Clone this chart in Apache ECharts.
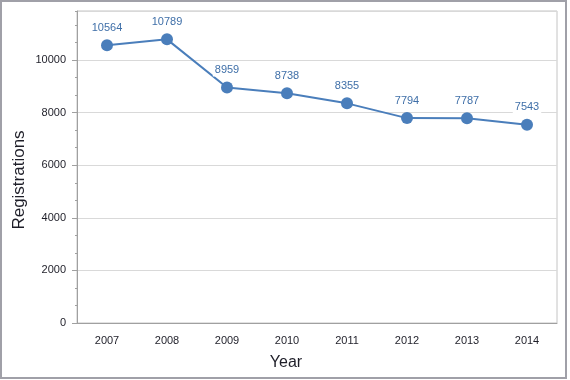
<!DOCTYPE html>
<html>
<head>
<meta charset="utf-8">
<script src="https://cdn.jsdelivr.net/npm/echarts@6/dist/echarts.min.js"></script>
<style>html,body{margin:0;padding:0;background:#fff}#c{width:570px;height:380px}</style>
</head>
<body>
<div id="c"></div>
<script>
const years = ['2007','2008','2009','2010','2011','2012','2013','2014'];
const registrations = [10564, 10789, 8959, 8738, 8355, 7794, 7787, 7543];
const yTicks = [0, 2000, 4000, 6000, 8000, 10000];

const yMax = 11868;
const minorCats = [];
for (let i = 0; i < years.length * 5; i++) minorCats.push('');

const chart = echarts.init(document.getElementById('c'), null, {renderer: 'canvas'});
const font = 'Liberation Sans';
chart.setOption({
  animation: false,
  backgroundColor: '#fff',
  grid: {left: 77, top: 11, right: 13, bottom: 57, show: true, borderColor: '#c4c4c4', borderWidth: 1},
  xAxis: [{
    type: 'category', data: years, boundaryGap: true,
    axisLine: {lineStyle: {color: '#a0a0a0'}},
    axisTick: {alignWithLabel: true, length: 5, lineStyle: {color: '#a0a0a0'}},
    axisLabel: {fontFamily: font, fontSize: 11, color: '#1e1e28', margin: 12},
    splitLine: {show: false}
  }, {
    type: 'category', data: minorCats, boundaryGap: true, position: 'bottom',
    axisLine: {show: false},
    axisTick: {alignWithLabel: true, interval: 0, length: 2, lineStyle: {color: '#a0a0a0'}},
    axisLabel: {show: false},
    splitLine: {show: false}
  }],
  yAxis: [{
    type: 'value', min: 0, max: yMax, interval: yTicks[1] - yTicks[0],
    axisLine: {show: true, lineStyle: {color: '#a0a0a0'}},
    axisTick: {show: true, length: 5, lineStyle: {color: '#a0a0a0'}},
    axisLabel: {fontFamily: font, fontSize: 11, color: '#1e1e28', margin: 11, showMaxLabel: false,
      formatter: function (v) { return String(v); }},
    splitLine: {lineStyle: {color: '#d9d9d9'}}
  }, {
    type: 'value', min: 0, max: yMax, interval: (yTicks[1] - yTicks[0]) / 3, position: 'left',
    axisLine: {show: false},
    axisTick: {show: true, length: 2, lineStyle: {color: '#a0a0a0'}},
    axisLabel: {show: false},
    splitLine: {show: false}
  }],
  graphic: [
    {type: 'rect', shape: {x: 1, y: 1, width: 565, height: 377}, style: {fill: null, stroke: '#a0a0a8', lineWidth: 2}, silent: true},
    {type: 'text', x: 286, y: 363, style: {text: 'Year', font: '16px "Liberation Sans"', fill: '#1e1e28', textAlign: 'center', textVerticalAlign: 'middle'}},
    {type: 'text', x: 19, y: 180, rotation: Math.PI / 2, style: {text: 'Registrations', font: '17px "Liberation Sans"', fill: '#1e1e28', textAlign: 'center', textVerticalAlign: 'middle'}}
  ],
  series: [{
    type: 'line', data: registrations, xAxisIndex: 0, yAxisIndex: 0,
    symbol: 'circle', symbolSize: 12,
    lineStyle: {color: '#4a7ebb', width: 2},
    itemStyle: {color: '#4a7ebb'},
    label: {show: true, position: 'top', distance: 5, fontFamily: font, fontSize: 11, color: '#3f6fa8', backgroundColor: '#fff', padding: [1, 2]}
  }]
});
</script>
</body>
</html>
